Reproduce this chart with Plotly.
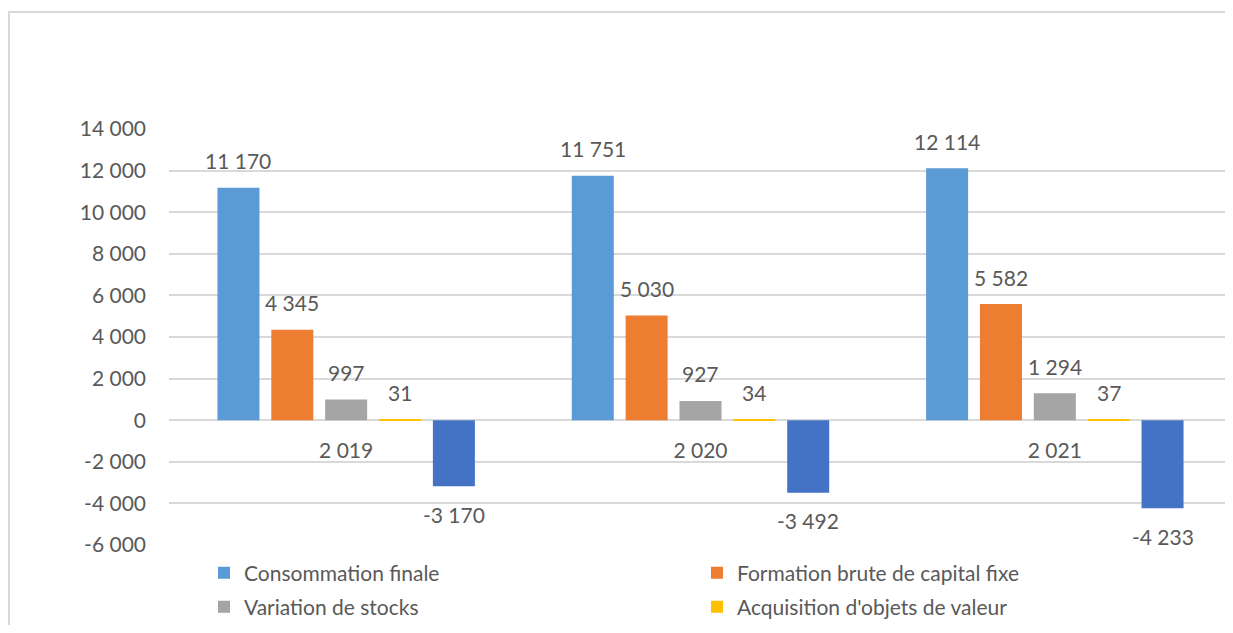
import plotly.graph_objects as go

categories = ["2 019", "2 020", "2 021"]
series_names = [
    "Consommation finale",
    "Formation brute de capital fixe",
    "Variation de stocks",
    "Acquisition d'objets de valeur",
    "Solde des échanges extérieurs",
]
consommation = [11170, 11751, 12114]
fbcf = [4345, 5030, 5582]
stocks = [997, 927, 1294]
objets_valeur = [31, 34, 37]
solde_ext = [-3170, -3492, -4233]
y_tick_values = [-6000, -4000, -2000, 0, 2000, 4000, 6000, 8000, 10000, 12000, 14000]
y_tick_labels = ["-6 000", "-4 000", "-2 000", "0", "2 000", "4 000", "6 000",
                 "8 000", "10 000", "12 000", "14 000"]

series_values = [consommation, fbcf, stocks, objets_valeur, solde_ext]
colors = ["#5B9BD5", "#ED7D31", "#A5A5A5", "#FFC000", "#4472C4"]
legend_ids = ["legend", "legend", "legend2", "legend2", "legend"]
show_leg = [True, True, True, True, False]

FONT = "Lato"
TXT = "#595959"
GRID = "#D9D9D9"

# page body has an 8px margin, so the figure is sized to fit the window
W, H = 1217, 617
ML, MR, MT, MB = 161, 0, 121, 80
plot_w = W - ML - MR
plot_h = H - MT - MB
cat_px = 354.33  # pixels per category
y_min, y_max = -6000, 14000
bargap, bargroupgap = 0.24, 0.22

def fmt(v):
    return f"{v:,}".replace(",", " ")

xs = list(range(len(categories)))
fig = go.Figure()
for k, (name, vals, col) in enumerate(zip(series_names, series_values, colors)):
    fig.add_trace(go.Bar(
        x=xs, y=vals, name=name, marker=dict(color=col, line=dict(width=0)),
        legend=legend_ids[k], showlegend=show_leg[k],
    ))

# data labels, aligned with grouped bar slots
n = len(series_names)
slot = (1 - bargap) / n
annotations = []
for k, vals in enumerate(series_values):
    for i, v in enumerate(vals):
        xpos = xs[i] + (k - (n - 1) / 2) * slot
        annotations.append(dict(
            x=xpos, y=v, xref="x", yref="y", text=fmt(v), showarrow=False,
            yanchor="middle", xanchor="center",
            yshift=27 if v >= 0 else -28,
            font=dict(family=FONT, size=21, color=TXT),
        ))

shapes = [
    # outer chart frame (left and top edges visible)
    dict(type="line", xref="paper", yref="paper",
         x0=(1 - ML) / plot_w, x1=(1 - ML) / plot_w,
         y0=(H - MB - 4) / plot_h, y1=(H - MB - H - 5) / plot_h,
         line=dict(color=GRID, width=2)),
    dict(type="line", xref="paper", yref="paper",
         x0=(0 - ML) / plot_w, x1=(W + 5 - ML) / plot_w,
         y0=(H - MB - 4) / plot_h, y1=(H - MB - 4) / plot_h,
         line=dict(color=GRID, width=2)),
]

fig.update_layout(
    width=W, height=H,
    margin=dict(l=ML, r=MR, t=MT, b=MB, pad=0, autoexpand=False),
    paper_bgcolor="white", plot_bgcolor="white",
    barmode="group", bargap=bargap, bargroupgap=bargroupgap,
    font=dict(family=FONT, size=21, color=TXT),
    annotations=annotations,
    shapes=shapes,
    xaxis=dict(
        tickmode="array", tickvals=xs, ticktext=categories,
        range=[-0.5, -0.5 + plot_w / cat_px],
        showgrid=False, zeroline=False, showline=False, ticks="",
        anchor="free", position=(0 - y_min) / (y_max - y_min),
        ticklabelstandoff=16,
        tickfont=dict(family=FONT, size=21, color=TXT),
    ),
    yaxis=dict(
        range=[y_min, y_max], tickmode="array",
        tickvals=y_tick_values, ticktext=y_tick_labels,
        showgrid=True, gridcolor=GRID, gridwidth=1.5,
        zeroline=True, zerolinecolor=GRID, zerolinewidth=1.5,
        showline=False, ticks="", ticklabelstandoff=22,
        tickfont=dict(family=FONT, size=21, color=TXT),
    ),
    legend=dict(
        orientation="h", x=(196 - ML) / plot_w, xanchor="left",
        y=(H - MB - 565) / plot_h, yanchor="middle",
        entrywidth=448, entrywidthmode="pixels",
        font=dict(family=FONT, size=21, color=TXT),
        bgcolor="rgba(0,0,0,0)", borderwidth=0,
        traceorder="normal",
    ),
    legend2=dict(
        orientation="h", x=(196 - ML) / plot_w, xanchor="left",
        y=(H - MB - 599) / plot_h, yanchor="middle",
        entrywidth=448, entrywidthmode="pixels",
        font=dict(family=FONT, size=21, color=TXT),
        bgcolor="rgba(0,0,0,0)", borderwidth=0,
        traceorder="normal",
    ),
    hovermode="x",
)

fig.write_html("out.html")
